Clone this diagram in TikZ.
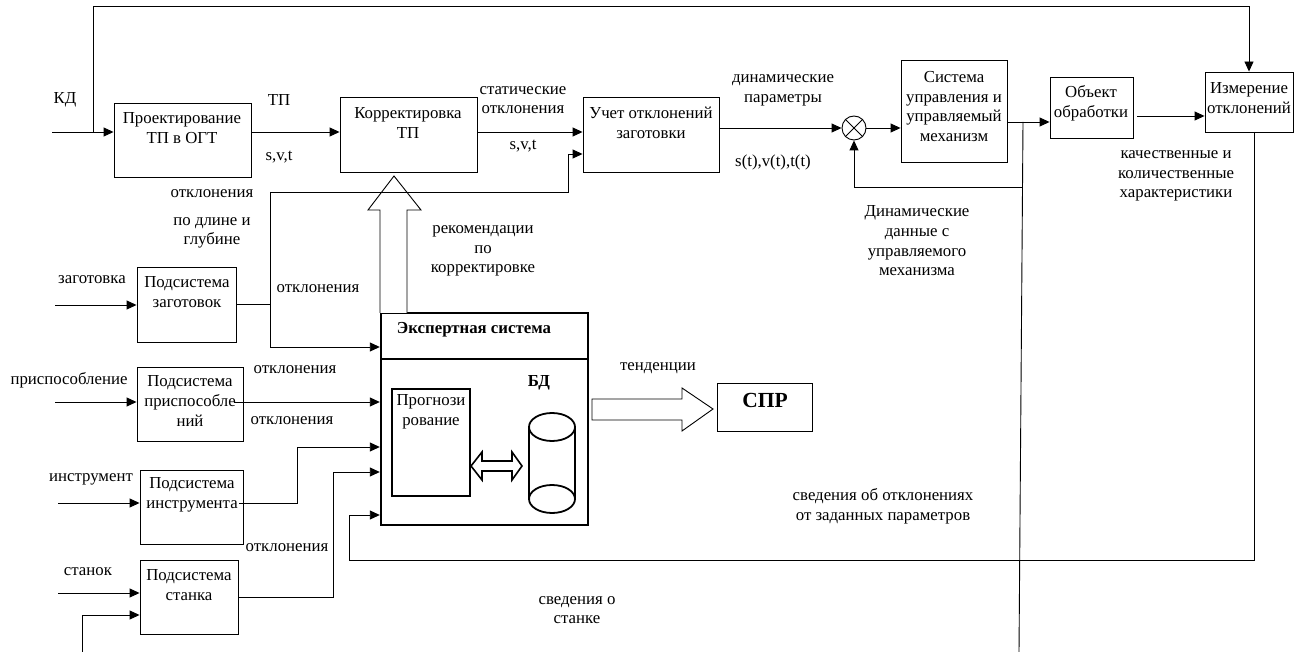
\documentclass[tikz,border=0pt]{standalone}
\usepackage{fontspec}
\setmainfont{Liberation Serif}
\usetikzlibrary{arrows.meta,fit,calc}
\begin{document}
\begin{tikzpicture}[x=1pt,y=-1pt,
  every node/.style={inner sep=0pt},
  box/.style={draw, line width=0.9pt, inner sep=0pt},
  tbox/.style={draw, line width=2.4pt, inner sep=0pt},
  lbl/.style={font=\fontsize{16.8}{19.7}\selectfont, align=center},
  blbl/.style={font=\fontsize{16.8}{19.7}\selectfont\bfseries, align=center},
  arr/.style={line width=0.9pt, -{Triangle[length=10pt,width=9pt]}},
  ln/.style={line width=0.9pt},
  harr/.style={line width=0.9pt, fill=white}]
\path[use as bounding box] (0,0) rectangle (1304,652);

% boxes
\node[box, fit={(114,103)(251,177)}] (proj) {};
\node[box, fit={(340,97)(477,172)}] (korr) {};
\node[box, fit={(583,97)(719,172)}] (uchet) {};
\node[box, fit={(901,60)(1007,162)}] (sys) {};
\node[box, fit={(1050,77)(1133,138)}] (obj) {};
\node[box, fit={(1205,72)(1293,132)}] (izm) {};
\node[draw, circle, line width=0.9pt, minimum size=24pt] (sum) at (854,128) {};
\draw[ln] (sum.north west) -- (sum.south east) (sum.north east) -- (sum.south west);
\node[box, fit={(137,267)(236,342)}] (zag) {};
\node[box, fit={(137,367)(243,441)}] (prisp) {};
\node[box, fit={(140,470)(243,544)}] (instr) {};
\node[box, fit={(140,560)(238,634)}] (stan) {};
\node[tbox, fit={(381,313)(588,525)}] (es) {};
\coordinate (esd) at (381,359);
\draw[line width=2.4pt] (esd) -- (esd -| es.east);
\node[draw, line width=2.2pt, fit={(392,389)(470,496)}] (progn) {};
\node[box, fit={(717,383)(812,431)}] (spr) {};

% database cylinder
\draw[line width=1.8pt] (552,427) ellipse [x radius=23, y radius=14];
\draw[line width=1.8pt] (552,499) ellipse [x radius=23, y radius=14];
\draw[line width=1.8pt] (529,427) -- (529,499) (575,427) -- (575,499);

% block arrows
\draw[harr] (380,313) -- (380,210) -- (368,210) -- (394,176) -- (421,210) -- (407,210) -- (407,313);
\draw[harr] (592,399) -- (682,399) -- (682,388) -- (713,409) -- (682,431) -- (682,420) -- (592,420) -- cycle;
\draw[line width=1.6pt, fill=white] (471,466) -- (482,452) -- (482,461) -- (512,461) -- (512,452) -- (522,466) -- (512,480) -- (512,471) -- (482,471) -- (482,480) -- cycle;

% texts in boxes
\node[lbl] (tproj) at (182,128) {Проектирование\\ТП в ОГТ};
\node[lbl] (tkorr) at (408,123) {Корректировка\\ТП};
\node[lbl] (tuchet) at (651,123) {Учет отклонений\\заготовки};
\node[lbl] (tsys) at (954,106.5) {Система\\управления и\\управляемый\\механизм};
\node[lbl] (tobj) at (1091,103) {Объект\\обработки};
\node[lbl] (tizm) at (1249,98) {Измерение\\отклонений};
\node[lbl] (tzag) at (187,292) {Подсистема\\заготовок};
\node[lbl] (tprisp) at (190,401) {Подсистема\\приспособле\\ний};
\node[lbl] (tinstr) at (192,495) {Подсистема\\инструмента};
\node[lbl] (tstan) at (189,585) {Подсистема\\станка};
\node[blbl] (tes) at (474,330) {Экспертная система};
\node[blbl] (tbd) at (539,383) {БД};
\node[lbl] (tprogn) at (431,412) {Прогнози\\рование};
\node[font=\fontsize{21.5}{24}\selectfont\bfseries] (tspr) at (765,400) {СПР};

% labels
\node[lbl] (lkd) at (65,100) {КД};
\node[lbl] (ltp) at (279,100) {ТП};
\node[lbl] (lsvt1) at (279,157) {s,v,t};
\node[lbl] (lstat) at (523,100) {статические\\отклонения};
\node[lbl] (lsvt2) at (523,146) {s,v,t};
\node[lbl] (ldyn) at (783,90) {динамические\\параметры};
\node[lbl] (lst) at (773,162) {s(t),v(t),t(t)};
\node[lbl] (lqual) at (1176,176) {качественные и\\количественные\\характеристики};
\node[lbl] (ldd) at (917,241) {Динамические\\данные с\\управляемого\\механизма};
\node[lbl] (lotk1) at (212,194) {отклонения};
\node[lbl] (lpod) at (212,233) {по длине и\\глубине};
\node[lbl] (lotk2) at (318,289) {отклонения};
\node[lbl] (lrek) at (483,251) {рекомендации\\по\\корректировке};
\node[lbl] (lzag) at (92,280) {заготовка};
\node[lbl] (lotk3) at (295,370) {отклонения};
\node[lbl] (lprisp) at (69,380) {приспособление};
\node[lbl] (lotk4) at (292,421) {отклонения};
\node[lbl] (linstr) at (91,479) {инструмент};
\node[lbl, fill=white, inner xsep=2pt, minimum height=22pt] (lotk5) at (287,548) {отклонения};
\node[lbl] (lstan) at (88,572) {станок};
\node[lbl] (ltend) at (658,368) {тенденции};
\node[lbl] (lsvs) at (883,506) {сведения об отклонениях\\от заданных параметров};
\node[lbl] (lsvst) at (577,610) {сведения о\\станке};

% connectors
\coordinate (kdin) at (52,132);
\coordinate (kdj) at (93,132);
\coordinate (topl) at (93,6);
\draw[arr] (kdin) -- (kdin -| proj.west);
\draw[arr] (kdj) -- (topl) -| (izm.north);

\coordinate (tpS) at (251,132);
\draw[arr] (tpS) -- (tpS -| korr.west);
\coordinate (kuS) at (477,132);
\draw[arr] (kuS) -- (kuS -| uchet.west);
\draw[arr] (uchet.east |- sum.west) -- (sum.west);
\draw[arr] (sum.east) -- (sum.east -| sys.west);
\coordinate (sj) at (1023,122);
\draw[arr] (sj -| sys.east) -- (sj -| obj.west);
\coordinate (sbot) at (1019,652);
\draw[ln] (sj) -- (sbot);
\coordinate (sh) at (1022.5,187);
\coordinate (ch) at (854,187);
\draw[arr] (sh) -- (ch) -- (sum.south);
\coordinate (oi) at (1137,116);
\draw[arr] (oi) -- (oi -| izm.west);

% measurement feedback to expert system
\coordinate (mt) at (1254,132);
\coordinate (mb) at (1254,560);
\coordinate (fb1) at (349,560);
\coordinate (fb2) at (349,515);
\draw[arr] (mt) -- (mb) -- (fb1) -- (fb2) -- (fb2 -| es.west);

% zagotovok
\coordinate (zt) at (270,192);
\coordinate (zb) at (270,347);
\coordinate (u2) at (568,154);
\draw[ln] (zag.east) -- (zag.east -| zt);
\draw[arr] (zt) -- (zb) -- (zb -| es.west);
\draw[arr] (zt) -| (u2) -- (u2 -| uchet.west);

% prisposoblenij
\coordinate (pr) at (234,402);
\draw[arr] (pr) -- (pr -| es.west);

% instrument
\coordinate (is) at (239,503);
\coordinate (ik) at (297,447);
\draw[arr] (is) -| (ik) -- (ik -| es.west);

% stanok
\coordinate (sk) at (333,472);
\draw[arr] (stan.east) -| (sk) -- (sk -| es.west);

% inputs
\coordinate (in1) at (55,305);
\draw[arr] (in1) -- (in1 -| zag.west);
\coordinate (in2) at (55,402);
\draw[arr] (in2) -- (in2 -| prisp.west);
\coordinate (in3) at (58,503);
\draw[arr] (in3) -- (in3 -| instr.west);
\coordinate (in4) at (58,593);
\draw[arr] (in4) -- (in4 -| stan.west);
\coordinate (sb) at (82,652);
\coordinate (sb2) at (82,615);
\draw[arr] (sb) -- (sb2) -- (sb2 -| stan.west);
\end{tikzpicture}
\end{document}
